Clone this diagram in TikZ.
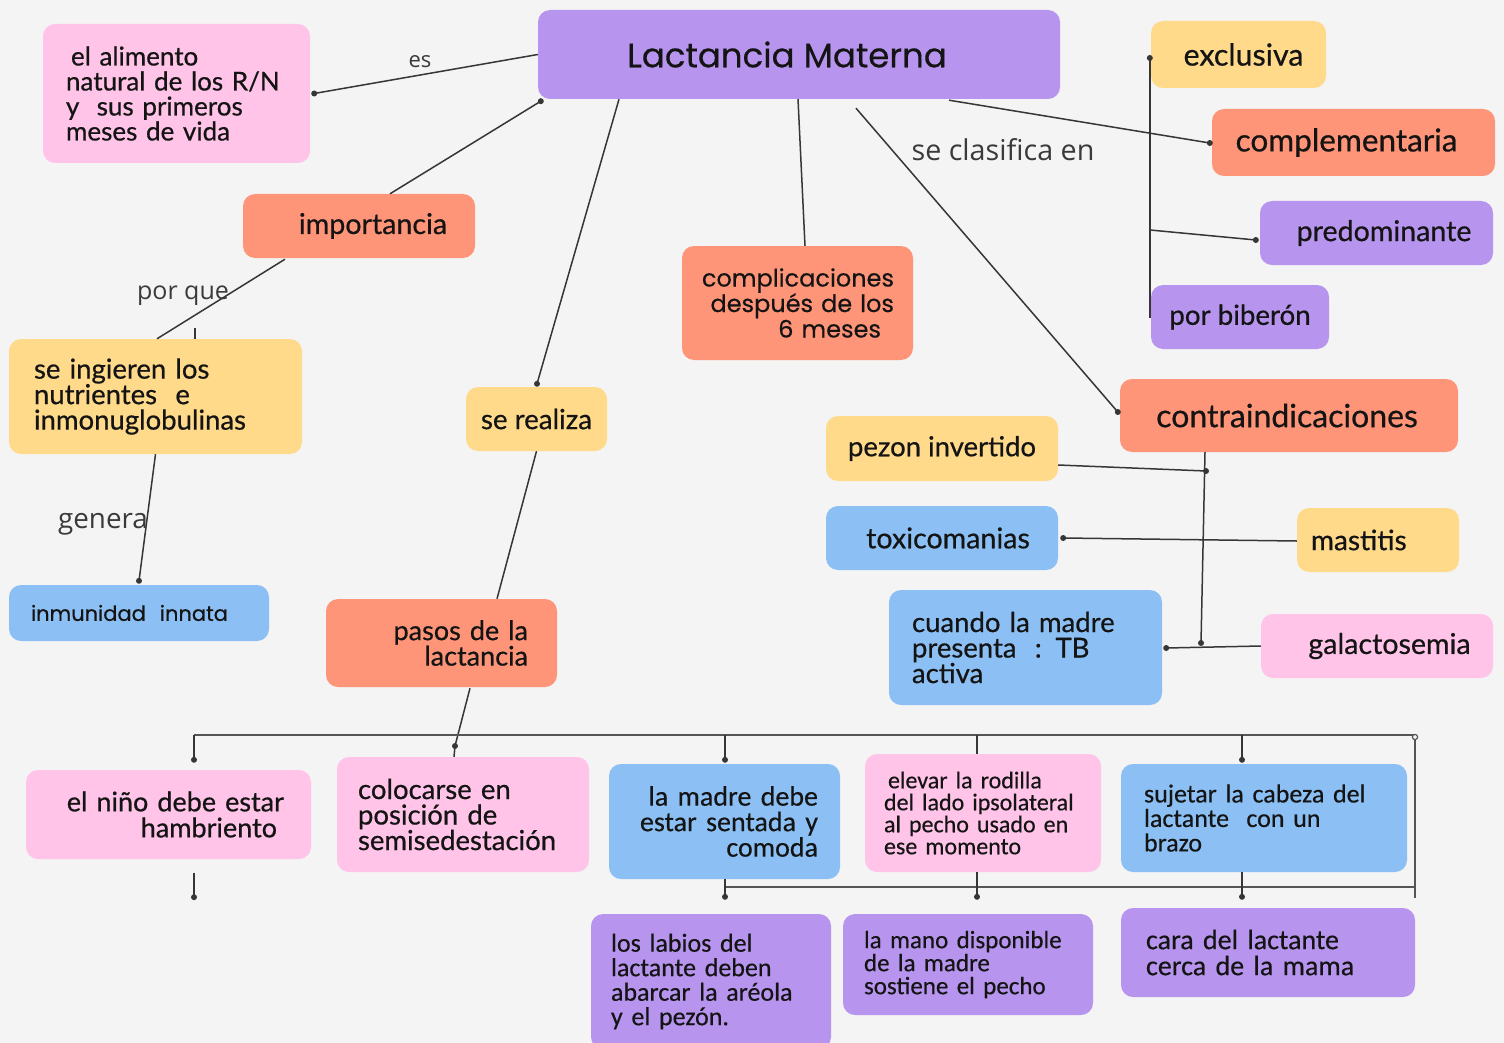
\documentclass[tikz,border=0pt]{standalone}
\usepackage{fontspec}
\setmainfont{Lato}[FakeBold=0.6]
\newfontfamily\pop{Poppins}[FakeBold=0.4]
\newfontfamily\carl{Carlito}[FakeBold=0.4]
\newfontfamily\osans{Open Sans}
\usetikzlibrary{calc}
\definecolor{bg}{HTML}{F4F4F4}
\definecolor{cpink}{HTML}{FFC4E8}
\definecolor{cpurple}{HTML}{B795EE}
\definecolor{csalmon}{HTML}{FF9578}
\definecolor{cyellow}{HTML}{FFDA8A}
\definecolor{cblue}{HTML}{8CC0F4}
\definecolor{wirec}{HTML}{363636}
\definecolor{barc}{HTML}{555555}
\definecolor{txt}{HTML}{141414}
\definecolor{labc}{HTML}{3A3A3A}
\newcommand{\fs}[2]{\fontsize{#1}{#2}\selectfont}
\begin{document}
\begin{tikzpicture}[x=1pt,y=-1pt,
  bx/.style={rounded corners=12pt, inner ysep=0pt, inner xsep=0pt, text=txt, font=\fs{28}{25.5}},
  pinkbox/.style={bx, fill=cpink},
  purplebox/.style={bx, fill=cpurple},
  salmonbox/.style={bx, fill=csalmon},
  yellowbox/.style={bx, fill=cyellow},
  bluebox/.style={bx, fill=cblue},
  wire/.style={draw=wirec, line width=1.5pt},
  barline/.style={draw=barc, line width=2pt},
  lab/.style={text=labc, inner sep=0pt}
]
\fill[bg] (0,0) rectangle (1504,1043);
\useasboundingbox (0,0) rectangle (1504,1043);

% ---------- nodes ----------
\node[pinkbox, text width=221pt, inner xsep=23pt, minimum height=139pt, align=left, font=\fs{26}{25}] (alim) at (176.5,93.5)
  {\hspace*{5pt}el alimento\\natural de los R/N\\y\ \ sus primeros\\meses de vida};
\node[purplebox, minimum width=522pt, minimum height=89pt, font=\pop\fs{34}{36}] (lm) at (799,54.5)
  {\raisebox{-3pt}{Lactancia Materna}\kern24pt};
\node[yellowbox, minimum width=175pt, minimum height=67pt, font=\fs{30.4}{32}] (excl) at (1238.5,54.5) {\kern10pt exclusiva};
\node[salmonbox, minimum width=283pt, minimum height=67pt, font=\fs{31.5}{32}] (comp) at (1353.5,142.5) {complementaria\kern14pt};
\node[purplebox, minimum width=233pt, minimum height=64pt, font=\fs{28.6}{30}] (pred) at (1376.5,233) {\kern15pt predominante};
\node[purplebox, minimum width=178pt, minimum height=64pt, font=\fs{27.7}{30}] (bib) at (1240,317) {por biberón};
\node[salmonbox, minimum width=338pt, minimum height=73pt, font=\fs{32}{34}] (contra) at (1289,415.5) {contraindicaciones\kern4pt};
\node[yellowbox, minimum width=232pt, minimum height=65pt, font=\fs{27.5}{30}] (pezon) at (942,448.5) {pezon invertido};
\node[bluebox, minimum width=232pt, minimum height=64pt, font=\fs{28.6}{30}] (toxi) at (942,538) {\kern12pt toxicomanias};
\node[yellowbox, text width=134pt, inner xsep=14pt, minimum height=64pt, align=left] (mast) at (1378,540) {mastitis};
\node[bluebox, text width=227pt, inner xsep=23pt, minimum height=115pt, align=left, font=\fs{27.5}{25.5}] (cuando) at (1025.5,647.5)
  {cuando la madre\\presenta\ \ : TB\\activa};
\node[pinkbox, minimum width=232pt, minimum height=64pt, font=\fs{28.6}{30}] (galac) at (1377,646) {\kern25pt galactosemia};
\node[salmonbox, minimum width=232pt, minimum height=64pt, font=\fs{28.6}{30}] (imp) at (359,226) {\kern28pt importancia};
\node[yellowbox, text width=243pt, inner xsep=25pt, minimum height=115pt, align=left, font=\fs{27.5}{25.5}] (ingi) at (155.5,396.5)
  {se ingieren los\\nutrientes\ \ e\\inmonuglobulinas};
\node[bluebox, text width=216pt, inner xsep=22pt, minimum height=56pt, align=left, font=\pop\fs{21}{22}] (inmu) at (139,613)
  {inmunidad\ \ innata};
\node[yellowbox, minimum width=141pt, minimum height=64pt, font=\fs{27.7}{30}] (real) at (536.5,419) {se realiza};
\node[salmonbox, text width=193pt, inner xsep=19pt, minimum height=114pt, align=right, font=\pop\fs{24}{25.5}] (compl) at (797.5,303)
  {complicaciones\\después de los\\6 meses\kern13pt};
\node[salmonbox, text width=173pt, inner xsep=29pt, minimum height=88pt, align=right, font=\fs{27}{25.5}] (pasos) at (441.5,643)
  {pasos de la\\lactancia};
\node[pinkbox, text width=231pt, inner xsep=27pt, minimum height=89pt, align=right, font=\fs{27}{26}] (nino) at (168.5,814.5)
  {el niño debe estar\\hambriento\kern7pt};
\node[pinkbox, text width=210pt, inner xsep=21pt, minimum height=115pt, align=left, font=\fs{27.5}{25.5}] (coloc) at (463,814.5)
  {colocarse en\\posición de\\semisedestación};
\node[bluebox, text width=187pt, inner xsep=22pt, minimum height=115pt, align=right, font=\carl\fs{28}{25.5}] (madre) at (724.5,821.5)
  {la madre debe\\estar sentada y\\comoda};
\node[pinkbox, text width=198pt, inner xsep=19pt, minimum height=118pt, align=left, font=\carl\fs{24}{22}] (elev) at (983,813)
  {\hspace*{4pt}elevar la rodilla\\del lado ipsolateral\\al pecho usado en\\ese momento};
\node[bluebox, text width=240pt, inner xsep=23pt, minimum height=108pt, align=left, font=\carl\fs{26}{24.5}] (suje) at (1264,818)
  {sujetar la cabeza del\\lactante\ \ con un\\brazo};
\node[purplebox, text width=200pt, inner xsep=20pt, minimum height=135pt, align=left, font=\carl\fs{26}{24.5}] (labios) at (711,981.5)
  {los labios del\\lactante deben\\abarcar la aréola\\y el pezón.};
\node[purplebox, text width=208pt, inner xsep=21pt, minimum height=101pt, align=left, font=\carl\fs{25}{23}] (mano) at (968,964.5)
  {la mano disponible\\de la madre\\sostiene el pecho};
\node[purplebox, text width=244pt, inner xsep=25pt, minimum height=89pt, align=left, font=\carl\fs{28}{26}] (cara) at (1268,952.5)
  {cara del lactante\\cerca de la mama};

% ---------- labels ----------
\node[lab, font=\osans\fs{22}{22}] (les) at (420,62) {es};
\node[lab, font=\osans\fs{28.7}{28}] (lcl) at (1003,150) {se clasifica en};
\node[lab, font=\osans\fs{25}{25}] (lpq) at (183,296) {por que};
\node[lab, font=\osans\fs{27.8}{28}] (lgen) at (103,524) {genera};

% ---------- junctions ----------
\coordinate (dp) at (455,746);
\coordinate (jp) at (1150,230);
\coordinate (jc1) at (1206,471);
\coordinate (jc2) at (1201,643);
\coordinate (bl) at (194,735);
\coordinate (t2) at (725,735);
\coordinate (t3) at (977,735);
\coordinate (t4) at (1242,735);
\coordinate (br) at (1415,735);
\coordinate (brb) at (1415,898);
\coordinate (b1) at (725,887);
\coordinate (b2) at (1415,887);

% ---------- connectors ----------
\draw[wire] (lm.west) -- ([shift={(4,0)}]alim.east) coordinate (d1);
\draw[wire] ([shift={(31,0)}]imp.north) -- ([shift={(3,2)}]lm.south west) coordinate (d2);
\draw[wire] ([shift={(-74,1)}]imp.south) -- ([shift={(1.5,0)}]ingi.north);
\draw[wire] ([shift={(39.5,-11)}]ingi.north) -- ([shift={(39.5,0)}]ingi.north);
\draw[wire] (ingi.south) -- ([shift={(0,-4)}]inmu.north) coordinate (d3);
\draw[wire] ([shift={(-180,0)}]lm.south) -- ([shift={(0.5,-3)}]real.north) coordinate (d4);
\draw[wire] (real.south) -- ([shift={(55.5,0)}]pasos.north);
\draw[wire] ([shift={(28.5,1)}]pasos.south) -- (dp) -- ([shift={(-9,0)}]coloc.north);
\draw[wire] ([shift={(-1,0)}]lm.south) -- ([shift={(7.5,0)}]compl.north);
\draw[wire] ([shift={(150,1)}]lm.south) -- ([shift={(-2,0.5)}]comp.west) coordinate (d5);
\draw[wire] ([shift={(57,9)}]lm.south) -- ([shift={(-2,-3.5)}]contra.west) coordinate (d6);
\draw[wire] ([shift={(-1,3.5)}]excl.west) coordinate (d7) -- ([shift={(-1,1)}]bib.west);
\draw[wire] (jp) -- ([shift={(-4,7)}]pred.west) coordinate (d8);
\draw[wire] ([shift={(-84,0)}]contra.south) -- (jc2);
\draw[wire] ([shift={(0,16.5)}]pezon.east) -- (jc1);
\draw[wire] ([shift={(5,0)}]toxi.east) coordinate (d9) -- ([shift={(0,1)}]mast.west);
\draw[wire] ([shift={(4,0.5)}]cuando.east) coordinate (d10) -- (galac.west);

\draw[barline] (bl) -- (br);
\draw[barline] ([shift={(0,4)}]br) -- (brb);
\draw[barline] (b1) -- (b2);
\draw[draw=barc, line width=1.2pt, fill=bg] ([shift={(0,2)}]br) circle (2.6pt);

\draw[wire] (bl) -- ([shift={(25.5,-10)}]nino.north) coordinate (d11);
\draw[wire] (t2) -- ([shift={(0.5,-4)}]madre.north) coordinate (d12);
\draw[wire] (t3) -- ([shift={(-6,0)}]elev.north);
\draw[wire] (t4) -- ([shift={(-22,-4)}]suje.north) coordinate (d13);
\draw[wire] ([shift={(0.5,0)}]madre.south) -- ([shift={(14,-17)}]labios.north) coordinate (d14);
\draw[wire] ([shift={(-6,0)}]elev.south) -- ([shift={(9,-17)}]mano.north) coordinate (d15);
\draw[wire] ([shift={(-22,0)}]suje.south) -- ([shift={(-26,-11)}]cara.north) coordinate (d16);
\draw[wire] ([shift={(25.5,14)}]nino.south) -- ([shift={(25.5,38)}]nino.south) coordinate (d17);

\foreach \p in {d1,d2,d3,d4,d5,d6,d7,d8,d9,d10,d11,d12,d13,d14,d15,d16,d17,dp,jc1,jc2}
  \fill[wirec] (\p) circle (3pt);
\end{tikzpicture}
\end{document}
